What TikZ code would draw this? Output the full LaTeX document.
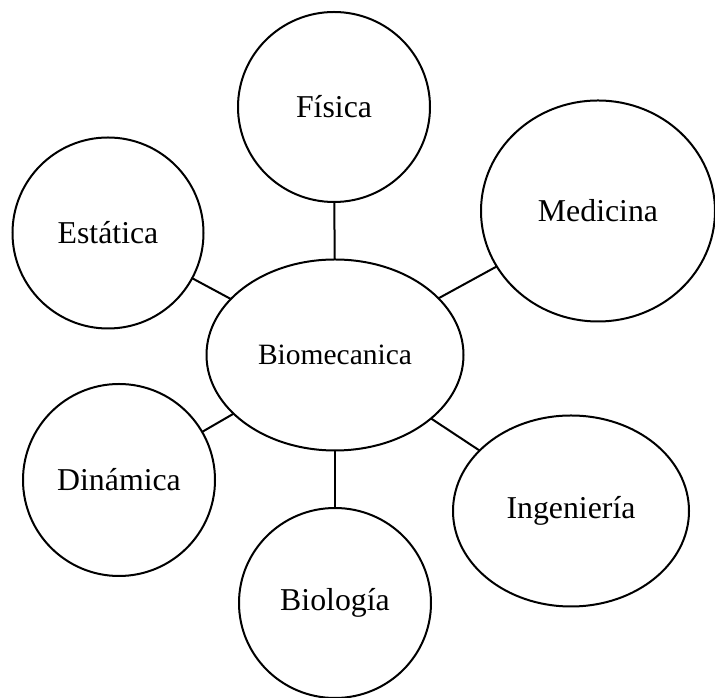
\documentclass[tikz,border=0pt]{standalone}
\usepackage{fontspec}
\setmainfont{Liberation Serif}
\usetikzlibrary{shapes.geometric}
\begin{document}
\begin{tikzpicture}[x=1pt,y=1pt,
  bub/.style={draw=black, line width=2pt, ellipse, inner sep=0pt, outer sep=0pt, font=\fontsize{31.8}{36}\selectfont},
  link/.style={draw=black, line width=2pt}]
\useasboundingbox (0,0) rectangle (715,698);
\node[bub, minimum width=192, minimum height=190] (fis) at (334,591) {Física};
\node[bub, minimum width=191, minimum height=191] (est) at (108,465) {Estática};
\node[bub, minimum width=234, minimum height=221] (med) at (598,487) {Medicina};
\node[bub, minimum width=257, minimum height=191, font=\fontsize{29.5}{33}\selectfont] (bio) at (335,343) {Biomecanica};
\node[bub, minimum width=192, minimum height=192] (din) at (119,218) {Dinámica};
\node[bub, minimum width=236, minimum height=191] (ing) at (571,187) {Ingeniería};
\node[bub, minimum width=192, minimum height=190] (blg) at (335,95) {Biología};
\draw[link] (fis) -- (bio);
\draw[link] (est) -- (bio);
\draw[link] (med) -- (bio);
\draw[link] (din) -- (bio);
\draw[link] (ing) -- (bio);
\draw[link] (blg) -- (bio);
\end{tikzpicture}
\end{document}
